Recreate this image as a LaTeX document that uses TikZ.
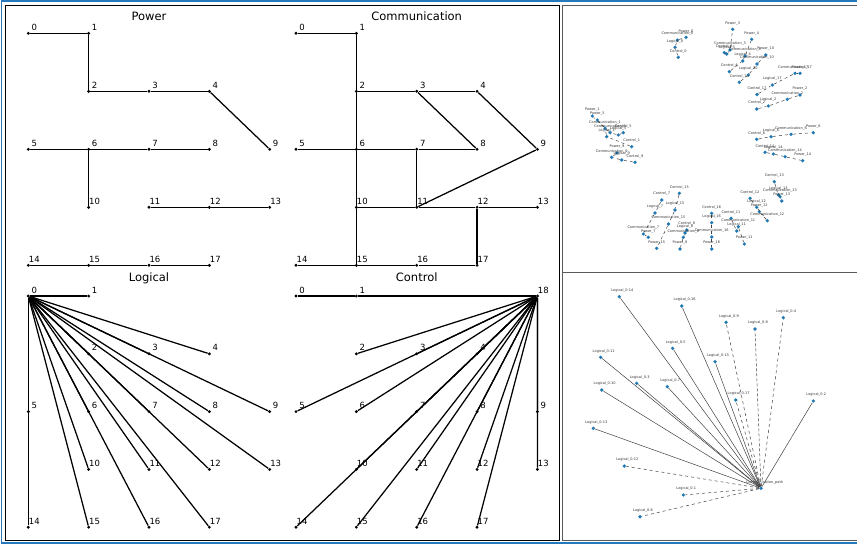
\documentclass[tikz,border=0pt]{standalone}
\usepackage{fontspec}
\setmainfont{DejaVu Sans}
\definecolor{mplblue}{HTML}{1F77B4}
\definecolor{framblue}{RGB}{40,120,190}
\tikzset{
 dot/.style={circle,fill=black,inner sep=0pt,minimum size=3.2pt},
 edge/.style={line width=1.25pt,black},
 num/.style={font=\fontsize{8.5}{9}\selectfont,anchor=base,inner sep=0pt},
 ttl/.style={font=\fontsize{11.5}{12}\selectfont,anchor=base,inner sep=0pt},
 bdot/.style={circle,fill=mplblue,inner sep=0pt,minimum size=3.6pt},
 tinylab/.style={font=\fontsize{3.5}{4}\selectfont,inner sep=0pt,text=black!80},
 thinedge/.style={line width=0.5pt,black!75},
}
\newcommand\gridnodes[4]{%
  \foreach \n/\i/\j in {0/0/0,1/1/0,2/1/1,3/2/1,4/3/1,5/0/2,6/1/2,7/2/2,8/3/2,9/4/2,10/1/3,11/2/3,12/3/3,13/4/3,14/0/4,15/1/4,16/2/4,17/3/4}{
    \node[dot] (#1\n) at ({#2+60.35*\i},{#3+#4*\j}) {};
  }}
\newcommand\gridlabels[1]{%
  \foreach \n in {0,...,17}{
    \node[num] (#1t\n) at ([shift={(6,-3)}]#1\n.center) {\n};
  }}
\begin{document}
\begin{tikzpicture}[x=1pt,y=-1pt]
\useasboundingbox (0,0) rectangle (857,544);
% frames
\draw[framblue,line width=1.5pt] (858,1) -- (1.5,1) -- (1.5,543) -- (858,543);
\draw[black,line width=0.9pt] (5,5) rectangle (559,540);
\draw[black!65,line width=0.9pt] (858,5) -- (562,5) -- (562,540) -- (858,540);
\draw[black!65,line width=0.9pt] (562,272) -- (858,272);
% titles
\node[ttl] (tP) at (149,20) {Power};
\node[ttl] (tC) at (416.7,20) {Communication};
\node[ttl] (tL) at (149,281) {Logical};
\node[ttl] (tK) at (416.7,281) {Control};
% nodes
\gridnodes{P}{28.3}{33.3}{58}
\gridnodes{C}{296}{33.3}{58}
\gridnodes{L}{28.3}{296}{57.8}
\gridnodes{K}{296}{296}{57.8}
\node[dot] (K18) at (537.4,296) {};
% edges
\foreach \a/\b in {0/1,1/2,2/3,3/4,4/9,5/6,6/7,7/8,6/10,11/12,12/13,14/15,15/16,16/17}
  \draw[edge] (P\a) -- (P\b);
\foreach \a/\b in {0/1,1/2,2/6,6/10,10/15,2/3,3/4,3/8,4/9,5/6,6/7,7/8,7/11,9/11,10/11,11/12,12/13,12/17,14/15,15/16,16/17}
  \draw[edge] (C\a) -- (C\b);
\foreach \b in {1,...,17}
  \draw[edge] (L0) -- (L\b);
\draw[edge] (K0) -- (K1);
\draw[edge] (K1) -- (K18);
\foreach \b in {2,...,17}
  \draw[edge] (K18) -- (K\b);
% labels
\gridlabels{P}
\gridlabels{C}
\gridlabels{L}
\gridlabels{K}
\node[num] (K18t) at ([shift={(6,-3)}]K18.center) {18};
% top right panel
\foreach \k/\px/\py/\mx/\my/\lx/\ly/\cx/\cy in {
 0/686/37.3/677.3/40/675/47.3/678.3/57.3,
 3/732.7/29.3/730/50/726.7/54/724.3/52.7,
 4/751.7/39.3/745/56/742.7/61/729.3/71.7,
 10/765.7/55/757/64/748.3/75/739.3/82.3,
 17/800/73.3/795/73.3/772.3/85/757/94.5,
 2/800/95/787.3/99.3/768.3/106/756.7/109,
 1/592.3/116/605/128.3/606.7/136.7/631.7/146.7,
 5/597.3/120/610/132.7/618.3/135/623.3/132.7,
 9/617/153/611.7/157.3/621.7/160/635/162.3,
 6/813.3/132.7/791/134.3/771/136.7/756.7/139.3,
 14/802.7/160.7/785/156.7/773.3/154/765/152.3,
 13/781.7/201/780/196.7/778.3/195/774.3/181.7,
 12/759.3/211.7/767.3/220.7/756.7/207.3/750/198.3,
 11/744.3/244/738.3/226.7/736.7/231/731/218.3,
 16/711.7/249/711.7/237/711.7/222.7/711.7/213.3,
 8/680/249/683.3/237.3/685/233/686.7/230,
 15/656.7/248.3/668.5/224/675/210/679.3/193.3,
 7/648.3/237.3/643.3/234/655/213/661.7/200}{
  \node[bdot] (rP\k) at (\px,\py) {};
  \node[bdot] (rM\k) at (\mx,\my) {};
  \node[bdot] (rL\k) at (\lx,\ly) {};
  \node[bdot] (rC\k) at (\cx,\cy) {};
  \draw[thinedge,dashed] (rC\k) -- (rL\k);
  \draw[thinedge,dashed] (rL\k) -- (rM\k);
  \draw[thinedge,dashed] (rM\k) -- (rP\k);
  \node[tinylab] (rPt\k) at (\px,\py-6) {Power\_\k};
  \node[tinylab] (rMt\k) at (\mx,\my-6) {Communication\_\k};
  \node[tinylab] (rLt\k) at (\lx,\ly-6) {Logical\_\k};
  \node[tinylab] (rCt\k) at (\cx,\cy-6) {Control\_\k};
}
% bottom right panel
\node[bdot] (S) at (761,488.3) {};
\node[tinylab] (St) at (764.5,482.5) {Communication\_path};
\foreach \k/\x/\y/\st in {
 14/619.3/296.7/solid, 16/681.7/306/solid, 9/726/322.3/dashed, 4/783.3/317.7/dashed,
 8/755/329/densely dashed, 5/672.7/348.3/solid, 11/600.7/357.3/solid, 15/715/361.7/solid,
 3/636.7/383.3/solid, 7/667.3/386.7/solid, 10/601.7/390/solid, 17/735.7/400/dashed,
 2/813.3/401/solid, 13/593.3/428.3/solid, 12/624.3/466/dashed, 1/683.3/495/dashed,
 6/640/516.7/dashed}{
  \node[bdot] (s\k) at (\x,\y) {};
  \draw[thinedge,\st] (S) -- (s\k);
  \node[tinylab] (st\k) at (\x+3,\y-6) {Logical\_0-\k};
}
\end{tikzpicture}
\end{document}
